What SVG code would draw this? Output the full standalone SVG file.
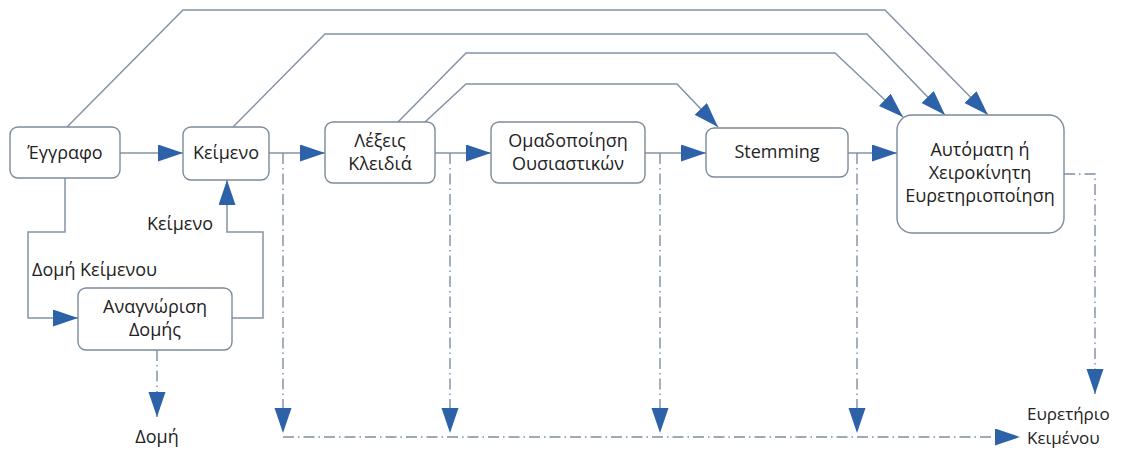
<svg xmlns="http://www.w3.org/2000/svg" width="1129" height="450" viewBox="0 0 1129 450">
<defs>
<marker id="arr" markerUnits="userSpaceOnUse" markerWidth="26" markerHeight="18" refX="25" refY="8.5" orient="auto">
<path d="M0,0 L25,8.5 L0,17 z" fill="#2E62A8"/>
</marker>
<style>
.box{fill:#ffffff;stroke:#7d8b9b;stroke-width:1.4}
.t{font-family:"Open Sans","Noto Sans",sans-serif;font-size:18px;fill:#222;text-anchor:middle}
.l{font-family:"Open Sans","Noto Sans",sans-serif;font-size:18px;fill:#222}
.s{font-family:"Open Sans","Noto Sans",sans-serif;font-size:17px;fill:#222}
.c{fill:none;stroke:#8493a6;stroke-width:1.5}
.d{fill:none;stroke:#7e8ea3;stroke-width:1.4;stroke-dasharray:11 4 1.5 4}
</style>
</defs>
<rect width="1129" height="450" fill="#ffffff"/>
<g id="connectors">
<path class="c" d="M67,127 L183,10 L885,10 L988,115" marker-end="url(#arr)"/>
<path class="c" d="M233,127 L325,34 L867,34 L945,115" marker-end="url(#arr)"/>
<path class="c" d="M398,122 L466,53 L835,53 L903,117" marker-end="url(#arr)"/>
<path class="c" d="M425,122 L466,84 L677,84 L718,127" marker-end="url(#arr)"/>
<path class="c" d="M120,153 L183,153" marker-end="url(#arr)"/>
<path class="c" d="M269,153 L325,153" marker-end="url(#arr)"/>
<path class="c" d="M435,153 L491,153" marker-end="url(#arr)"/>
<path class="c" d="M645,153 L706,153" marker-end="url(#arr)"/>
<path class="c" d="M848,153 L897,153" marker-end="url(#arr)"/>
<path class="c" d="M65,178 L65,232 L28,232 L28,318 L78,318" marker-end="url(#arr)"/>
<path class="c" d="M232,318 L263,318 L263,232 L227,232 L227,180" marker-end="url(#arr)"/>
<path class="d" d="M157,350 L157,417" marker-end="url(#arr)"/>
<path class="d" d="M283,153 L283,433" marker-end="url(#arr)"/>
<path class="d" d="M450,153 L450,433" marker-end="url(#arr)"/>
<path class="d" d="M660,153 L660,433" marker-end="url(#arr)"/>
<path class="d" d="M857,153 L857,433" marker-end="url(#arr)"/>
<path class="d" d="M283,437 L1020,437" marker-end="url(#arr)"/>
<path class="d" d="M1064,174 L1095,174 L1095,394" marker-end="url(#arr)"/>
</g>
<g id="n_eggrafo">
<rect class="box" x="10" y="127" width="110" height="51" rx="8"/>
<text class="t" x="65" y="159">Έγγραφο</text>
</g>
<g id="n_keimeno">
<rect class="box" x="183" y="127" width="86" height="53" rx="8"/>
<text class="t" x="226" y="159">Κείμενο</text>
</g>
<g id="n_lexeis">
<rect class="box" x="325" y="122" width="110" height="61" rx="8"/>
<text class="t" x="380" y="147">Λέξεις</text>
<text class="t" x="380" y="170">Κλειδιά</text>
</g>
<g id="n_omadopoiisi">
<rect class="box" x="491" y="122" width="154" height="61" rx="8"/>
<text class="t" x="568" y="147">Ομαδοποίηση</text>
<text class="t" x="568" y="170">Ουσιαστικών</text>
</g>
<g id="n_stemming">
<rect class="box" x="706" y="128" width="142" height="49" rx="8"/>
<text class="t" x="777" y="158">Stemming</text>
</g>
<g id="n_eyretiriopoiisi">
<rect class="box" x="897" y="115" width="167" height="118" rx="15"/>
<text class="t" x="980" y="156">Αυτόματη ή</text>
<text class="t" x="980" y="179">Χειροκίνητη</text>
<text class="t" x="980" y="202">Ευρετηριοποίηση</text>
</g>
<g id="n_anagnorisi">
<rect class="box" x="78" y="288" width="154" height="62" rx="8"/>
<text class="t" x="155" y="313">Αναγνώριση</text>
<text class="t" x="155" y="336">Δομής</text>
</g>
<g id="labels">
<text class="l" x="32" y="276">Δομή Κείμενου</text>
<text class="l" x="147" y="230">Κείμενο</text>
<text class="t" x="157" y="443">Δομή</text>
<text class="s" x="1027" y="420">Ευρετήριο</text>
<text class="s" x="1027" y="444">Κειμένου</text>
</g>
</svg>
